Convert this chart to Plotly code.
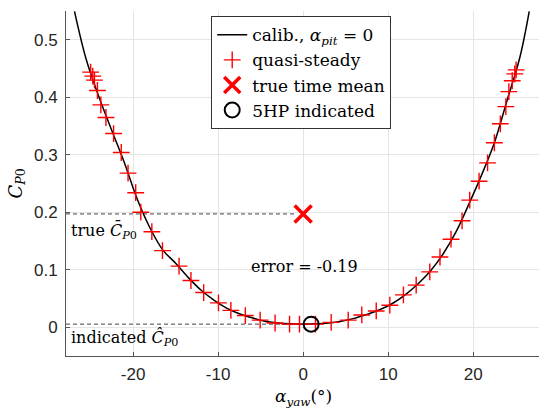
import plotly.graph_objects as go

# Calibration curve (alpha_pit = 0)
cal_alpha = [-26.9, -25.5, -24, -22.5, -21, -19.5, -18, -16.5, -15, -13.5, -12, -10.5, -9, -7.5,
             -6, -4.5, -3, -1.5, 0, 1.5, 3, 4.5, 6, 7.5, 9, 10.5, 12, 13.5, 15, 16.5, 18, 19.5,
             21, 22.5, 24, 25.5, 26.6]
cal_cp = [0.55, 0.465, 0.400, 0.342, 0.285, 0.222, 0.172, 0.134, 0.111, 0.086, 0.064, 0.047, 0.033,
          0.023, 0.016, 0.010, 0.007, 0.0055, 0.005, 0.0055, 0.007, 0.010, 0.015, 0.022, 0.030,
          0.041, 0.056, 0.075, 0.098, 0.128, 0.166, 0.214, 0.265, 0.321, 0.395, 0.47, 0.55]

# Quasi-steady points
qs_alpha = [-25.0, -24.75, -24.55, -24.2, -23.8, -23.2, -22.3, -21.4, -20.6, -19.7, -19.1, -17.8,
            -16.55, -14.6, -13.2, -11.7, -9.96, -8.5, -6.8, -5.06, -3.3, -1.6, -0.43, 1.45,
            3.3, 5.3, 6.9, 8.6, 10.2, 11.8, 13.3, 14.9, 16.1, 17.4, 18.7, 19.6, 20.7, 21.7,
            22.5, 23.2, 23.85, 24.2, 24.6, 24.9, 25.06]
qs_cp = [0.444, 0.437, 0.430, 0.412, 0.387, 0.365, 0.337, 0.304, 0.268, 0.234, 0.200, 0.166,
         0.133, 0.106, 0.081, 0.060, 0.042, 0.029, 0.020, 0.012, 0.007, 0.005, 0.005, 0.005,
         0.008, 0.012, 0.021, 0.028, 0.038, 0.056, 0.073, 0.096, 0.122, 0.153, 0.185, 0.221,
         0.254, 0.286, 0.321, 0.354, 0.384, 0.41, 0.429, 0.441, 0.448]

true_mean_alpha, true_mean_cp = 0.0, 0.197
ind_alpha, ind_cp = 0.94, 0.005
error_text = "error = -0.19"

x_range = [-27.9, 27.75]
y_range = [-0.0505, 0.5505]
x_ticks = [-20, -10, 0, 10, 20]
y_ticks = [0, 0.1, 0.2, 0.3, 0.4, 0.5]

serif = "DejaVu Serif"
sans = "Liberation Sans"

fig = go.Figure()

# dashed reference lines
fig.add_trace(go.Scatter(x=[x_range[0], true_mean_alpha - 0.9], y=[true_mean_cp, true_mean_cp],
                         mode="lines", line=dict(color="#444444", width=1, dash="4px,3px"),
                         showlegend=False, hoverinfo="skip"))
fig.add_trace(go.Scatter(x=[x_range[0], ind_alpha], y=[ind_cp, ind_cp],
                         mode="lines", line=dict(color="#444444", width=1, dash="4px,3px"),
                         showlegend=False, hoverinfo="skip"))

fig.add_trace(go.Scatter(x=cal_alpha, y=cal_cp, mode="lines", line=dict(color="black", width=1.5, shape="spline"),
                         name="calib., <i>α<sub>pit</sub></i> = 0"))
fig.add_trace(go.Scatter(x=qs_alpha, y=qs_cp, mode="markers",
                         marker=dict(symbol="cross-thin", size=12, line=dict(color="#ff0000", width=1.4)),
                         name="quasi-steady"))
fig.add_trace(go.Scatter(x=[true_mean_alpha], y=[true_mean_cp], mode="markers",
                         marker=dict(symbol="x-thin", size=17, line=dict(color="#ff0000", width=3.5)),
                         name="true time mean"))
fig.add_trace(go.Scatter(x=[ind_alpha], y=[ind_cp], mode="markers",
                         marker=dict(symbol="circle-open", size=15, color="black", line=dict(color="black", width=2)),
                         name="5HP indicated"))

fig.add_annotation(x=x_range[0], y=0.169, xref="x", yref="y", xanchor="left", xshift=3,
                   text="true <i>C̄</i><sub><i>P</i>0</sub>", showarrow=False,
                   font=dict(family=serif, size=16, color="black"))
fig.add_annotation(x=x_range[0], y=-0.019, xref="x", yref="y", xanchor="left", xshift=3,
                   text="indicated <i>Ĉ</i><sub><i>P</i>0</sub>", showarrow=False,
                   font=dict(family=serif, size=16, color="black"))
fig.add_annotation(x=0.2, y=0.106, xref="x", yref="y", text=error_text, showarrow=False,
                   font=dict(family=serif, size=16, color="black"))

# axis titles
fig.add_annotation(x=0, y=0.5, xref="paper", yref="paper", xanchor="center", yanchor="middle",
                   xshift=-50, text="<i>C</i><sub><i>P</i>0</sub>",
                   textangle=-90, showarrow=False, font=dict(family=serif, size=18, color="black"))
fig.add_annotation(x=0, y=0, xref="x", yref="paper", xanchor="center", yanchor="middle",
                   yshift=-41, text="<i>α<sub>yaw</sub></i>(°)",
                   showarrow=False, font=dict(family=serif, size=17, color="black"))

axis_common = dict(showgrid=True, gridcolor="#e5e5e5", gridwidth=1, zeroline=False,
                   showline=True, linecolor="#555555", linewidth=1, ticks="inside", ticklen=4,
                   tickcolor="#555555", tickfont=dict(family=sans, size=17, color="#262626"))

fig.update_xaxes(range=x_range, tickvals=x_ticks, ticktext=[str(v) for v in x_ticks],
                 ticklabelstandoff=3, **axis_common)
fig.update_yaxes(range=y_range, tickvals=y_ticks, ticktext=["0", "0.1", "0.2", "0.3", "0.4", "0.5"],
                 ticklabelstandoff=4, **axis_common)

fig.update_layout(width=539, height=409, margin=dict(l=66, r=0, t=11, b=53),
                  plot_bgcolor="white", paper_bgcolor="white",
                  legend=dict(x=0.307, y=0.985, xanchor="left", yanchor="top",
                              bgcolor="white", bordercolor="#333333", borderwidth=1,
                              font=dict(family=serif, size=17, color="black"),
                              tracegroupgap=0, itemwidth=30))

fig.write_html("out.html")
